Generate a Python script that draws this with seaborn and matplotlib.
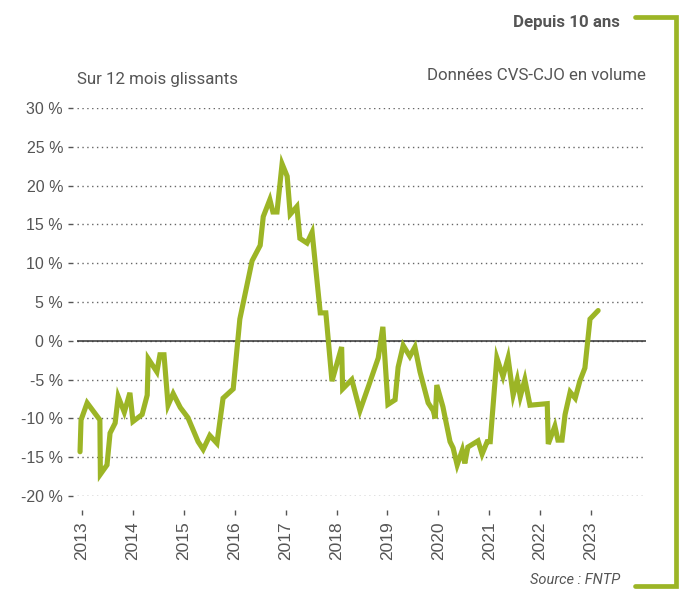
import numpy as np
import pandas as pd
import seaborn as sns
import matplotlib.pyplot as plt
from matplotlib.lines import Line2D

# date (decimal year) and 12-month rolling change
years = [2012.96, 2012.98, 2013.10, 2013.35, 2013.36, 2013.49, 2013.55, 2013.65, 2013.71, 2013.83,
         2013.94, 2014.00, 2014.18, 2014.28, 2014.30, 2014.47, 2014.53, 2014.61, 2014.69, 2014.79,
         2014.93, 2015.08, 2015.28, 2015.38, 2015.51, 2015.65, 2015.77, 2015.97, 2016.10, 2016.34,
         2016.50, 2016.56, 2016.69, 2016.75, 2016.83, 2016.93, 2017.03, 2017.09, 2017.22, 2017.28,
         2017.42, 2017.52, 2017.68, 2017.79, 2017.91, 2018.10, 2018.12, 2018.30, 2018.46, 2018.62,
         2018.82, 2018.91, 2019.01, 2019.15, 2019.21, 2019.31, 2019.44, 2019.54, 2019.64, 2019.80,
         2019.90, 2019.94, 2019.97, 2020.09, 2020.23, 2020.29, 2020.37, 2020.47, 2020.52, 2020.58,
         2020.78, 2020.86, 2020.96, 2021.02, 2021.15, 2021.27, 2021.37, 2021.47, 2021.55, 2021.61,
         2021.70, 2021.80, 2022.14, 2022.16, 2022.29, 2022.35, 2022.43, 2022.49, 2022.59, 2022.69,
         2022.78, 2022.88, 2022.98, 2023.14]
values = [-14.3, -10.2, -8.0, -10.2, -17.2, -16.0, -11.9, -10.6, -7.2, -9.2,
          -6.7, -10.4, -9.5, -7.0, -2.3, -4.0, -1.8, -1.8, -8.3, -6.8,
          -8.6, -9.9, -13.0, -14.0, -12.2, -13.2, -7.4, -6.2, 2.8, 10.3,
          12.3, 16.0, 18.2, 16.6, 16.6, 22.8, 21.2, 16.3, 17.3, 13.2,
          12.6, 14.0, 3.6, 3.6, -5.2, -0.8, -6.2, -5.0, -9.0, -6.0,
          -2.2, 1.8, -8.2, -7.6, -3.4, -0.6, -2.0, -0.8, -4.0, -8.0,
          -9.0, -10.0, -5.7, -8.5, -13.0, -13.8, -16.0, -14.1, -15.8, -13.7,
          -12.9, -14.6, -13.0, -13.0, -2.2, -4.6, -2.2, -7.0, -5.0, -7.2,
          -5.0, -8.3, -8.1, -13.3, -11.0, -12.8, -12.8, -9.5, -6.6, -7.4,
          -5.2, -3.5, 2.8, 3.9]

year_ticks = list(range(2013, 2024))
pct_ticks = [30, 25, 20, 15, 10, 5, 0, -5, -10, -15, -20]
pct_labels = [f"{v} %" for v in pct_ticks]

df = pd.DataFrame({'annee': years, 'evol': values})

green = '#9cb526'
grey = '#555555'

sns.set_style('white')
plt.rcParams['font.family'] = ['Roboto', 'DejaVu Sans']

fig = plt.figure(figsize=(6.83, 5.89), dpi=100)
ax = fig.add_axes([0.1127, 0.1579, 0.8331, 0.6587])

sns.lineplot(data=df, x='annee', y='evol', color=green, linewidth=3.7,
             sort=False, estimator=None, ax=ax, solid_joinstyle='miter')

ax.set_xlim(2012.90, 2024.08)
ax.set_ylim(-20, 30)
ax.set_yticks(pct_ticks)
ax.set_yticklabels(pct_labels)
ax.set_xticks(year_ticks)
ax.set_xticklabels([str(y) for y in year_ticks])
ax.set_xlabel('')
ax.set_ylabel('')

ax.grid(axis='y', color='#666666', linestyle=(0, (1, 2.5)), linewidth=1.0)
ax.grid(axis='x', visible=False)
ax.axhline(0, color='#333333', linewidth=1.1, zorder=1)

for s in ['top', 'right']:
    ax.spines[s].set_visible(False)
ax.spines['left'].set_position(('outward', 3))
ax.spines['bottom'].set_position(('outward', 10))
ax.spines['left'].set_color('none')
ax.spines['bottom'].set_color('none')

ax.tick_params(axis='y', left=True, length=3.5, width=1, color=grey, pad=3.5,
               labelsize=11.5, labelcolor=grey)
ax.tick_params(axis='x', bottom=True, length=3.5, width=1, color=grey, pad=5,
               labelsize=12.5, labelcolor=grey, labelrotation=90)
for lab in ax.get_xticklabels() + ax.get_yticklabels():
    lab.set_family(['Liberation Sans', 'DejaVu Sans'])

fig.text(77 / 683, 1 - 80 / 589, 'Sur 12 mois glissants', fontsize=12.2,
         color=grey, ha='left', va='center')
fig.text(646 / 683, 1 - 75.5 / 589, 'Données CVS-CJO en volume', fontsize=12.2,
         color=grey, ha='right', va='center')
fig.text(620 / 683, 1 - 22 / 589, 'Depuis 10 ans', fontsize=12.2, fontweight='bold',
         color=grey, ha='right', va='center')
fig.text(620 / 683, 1 - 587 / 589, 'Source : FNTP', fontsize=10.5, style='italic',
         color=grey, ha='right', va='bottom')

# bracket on the right side
fig.add_artist(Line2D([635 / 683, 676 / 683, 676 / 683, 635 / 683],
                      [1 - 17 / 589, 1 - 17 / 589, 1 - 586 / 589, 1 - 586 / 589],
                      color=green, linewidth=3.4, solid_joinstyle='miter'))

fig.savefig('out.png', dpi=100)
